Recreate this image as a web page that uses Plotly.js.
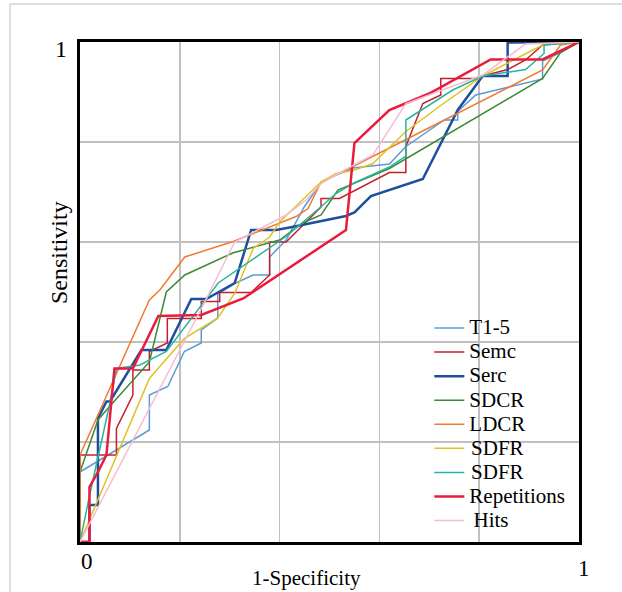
<!DOCTYPE html>
<html>
<head>
<meta charset="utf-8">
<script src="https://cdn.plot.ly/plotly-3.0.1.min.js"></script>
<style>html,body{margin:0;padding:0;background:#fff;}#chart{width:622px;height:592px;}</style>
</head>
<body>
<div id="chart"></div>
<script>
const seriesNames = ["T1-5","Semc","Serc","SDCR","LDCR","SDFR","SDFR","Repetitions","Hits"];

const t15X = [0,0,0.139,0.139,0.176,0.209,0.243,0.243,0.276,0.276,0.31,0.347,0.38,0.38,0.413,0.45,0.483,0.513,0.547,0.62,0.653,0.73,0.757,0.757,0.793,0.927,0.927,0.963,1];
const t15Y = [0,0.14,0.224,0.294,0.311,0.381,0.398,0.424,0.448,0.496,0.517,0.534,0.534,0.57,0.604,0.671,0.719,0.734,0.748,0.756,0.791,0.844,0.844,0.861,0.894,0.926,0.962,0.979,1];

const semcX = [0,0,0.073,0.073,0.106,0.106,0.139,0.139,0.175,0.175,0.243,0.243,0.28,0.28,0.343,0.38,0.38,0.413,0.483,0.483,0.52,0.62,0.653,0.653,0.687,0.723,0.723,0.79,0.807,0.857,0.893,0.927,1];
const semcY = [0,0.174,0.174,0.227,0.294,0.344,0.344,0.381,0.398,0.447,0.447,0.481,0.481,0.499,0.499,0.534,0.6,0.6,0.67,0.687,0.687,0.739,0.739,0.791,0.877,0.894,0.927,0.927,0.932,0.945,0.964,0.994,1];

const sercX = [0,0.019,0.019,0.036,0.036,0.053,0.06,0.123,0.173,0.223,0.253,0.31,0.343,0.393,0.42,0.533,0.55,0.583,0.687,0.757,0.807,0.857,0.857,1];
const sercY = [0,0,0.074,0.074,0.247,0.281,0.281,0.384,0.384,0.486,0.486,0.518,0.624,0.624,0.629,0.652,0.659,0.692,0.726,0.864,0.932,0.932,0.999,1];

const sdcrX = [0,0,0.036,0.053,0.139,0.173,0.21,0.306,0.4,0.446,0.483,0.517,0.62,0.727,0.927,0.963,1];
const sdcrY = [0,0.14,0.244,0.264,0.36,0.5,0.534,0.578,0.604,0.638,0.654,0.704,0.747,0.81,0.927,0.979,1];

const ldcrX = [0,0,0.139,0.16,0.21,0.307,0.433,0.457,0.483,0.547,0.927,0.963,1];
const ldcrY = [0,0.174,0.484,0.504,0.57,0.601,0.651,0.667,0.72,0.751,0.944,0.994,1];

const sdfrYellowX = [0,0.139,0.209,0.276,0.31,0.347,0.38,0.4,0.483,0.513,0.547,0.587,0.653,0.72,0.807,0.927,1];
const sdfrYellowY = [0,0.327,0.407,0.448,0.497,0.587,0.61,0.64,0.72,0.737,0.743,0.757,0.821,0.871,0.932,0.994,1];

const sdfrTealX = [0,0.02,0.06,0.073,0.12,0.173,0.277,0.343,0.413,0.487,0.513,0.547,0.62,0.653,0.653,0.747,0.807,0.893,0.93,0.93,1];
const sdfrTealY = [0,0.097,0.278,0.347,0.354,0.381,0.518,0.564,0.611,0.674,0.697,0.717,0.75,0.772,0.844,0.904,0.932,0.945,0.977,0.994,1];

const repX = [0,0.019,0.019,0.036,0.053,0.069,0.106,0.157,0.243,0.327,0.533,0.55,0.62,0.70,0.823,0.927,1];
const repY = [0,0,0.11,0.14,0.174,0.347,0.347,0.452,0.454,0.487,0.624,0.798,0.864,0.897,0.965,0.965,1];

const hitsX = [0,0.201,0.25,0.31,0.413,0.453,0.483,0.517,0.587,0.653,0.807,0.893,1];
const hitsY = [0,0.386,0.48,0.6,0.654,0.684,0.717,0.737,0.774,0.877,0.934,0.996,1];

const xs = [t15X, semcX, sercX, sdcrX, ldcrX, sdfrYellowX, sdfrTealX, repX, hitsX];
const ys = [t15Y, semcY, sercY, sdcrY, ldcrY, sdfrYellowY, sdfrTealY, repY, hitsY];
const colors = ["#5b9bd5","#c3202f","#1f4e9e","#3b8a36","#f07a32","#e0c224","#2bb39e","#e91c3c","#f6bcd3"];
const widths = [1.5,1.5,2.5,1.5,1.5,1.5,1.5,2.5,1.5];
const namePad = ["","","","","","&#8202;","&#8202;","","&#8201;"];

const traces = seriesNames.map((n,i)=>({
  type:'scatter', mode:'lines', name:'<span style="font-size:21px">'+namePad[i]+n+'</span>', x:xs[i], y:ys[i],
  line:{color:colors[i], width:widths[i]}
}));

const F = "Liberation Serif, Times New Roman, serif";
function ann(text, x, y, size, extra){
  return Object.assign({text:text, xref:'paper', yref:'paper', x:x, y:y, xanchor:'center', yanchor:'middle',
    showarrow:false, font:{family:F,size:size,color:'#000'}}, extra||{});
}
const layout = {
  width:622, height:592,
  margin:{l:80, r:43, t:42, b:50},
  paper_bgcolor:'#fff', plot_bgcolor:'#fff',
  showlegend:true,
  font:{family:F, color:'#000'},
  xaxis:{range:[0,1], dtick:0.2, showgrid:true, gridcolor:'#c0c0c0', gridwidth:1.5,
    zeroline:false, showline:true, mirror:true, linecolor:'#000', linewidth:3,
    showticklabels:false, ticks:'', fixedrange:true},
  yaxis:{range:[0,1], dtick:0.2, showgrid:true, gridcolor:'#c0c0c0', gridwidth:1.5,
    zeroline:false, showline:true, mirror:true, linecolor:'#000', linewidth:3,
    showticklabels:false, ticks:'', fixedrange:true},
  legend:{x:0.7, y:0.462, xanchor:'left', yanchor:'top', bgcolor:'rgba(0,0,0,0)',
    borderwidth:0, font:{family:F, size:16.2, color:'#000'}, tracegroupgap:0},
  shapes:[{type:'rect', xref:'paper', yref:'paper', x0:-0.1403, x1:1.102, y0:-0.116, y1:1.076,
    line:{color:'#bdbdbd', width:1}, fillcolor:'rgba(0,0,0,0)', layer:'below'}],
  annotations:[
    ann('1', -0.038, 0.986, 24),
    ann('0', 0.014, -0.038, 23),
    ann('1', 1.01, -0.052, 23),
    ann('1-Specificity', 0.453, -0.072, 21),
    ann('Sensitivity', -0.042, 0.578, 24, {textangle:-90})
  ]
};
Plotly.newPlot('chart', traces, layout, {displayModeBar:false, staticPlot:true});
</script>
</body>
</html>
